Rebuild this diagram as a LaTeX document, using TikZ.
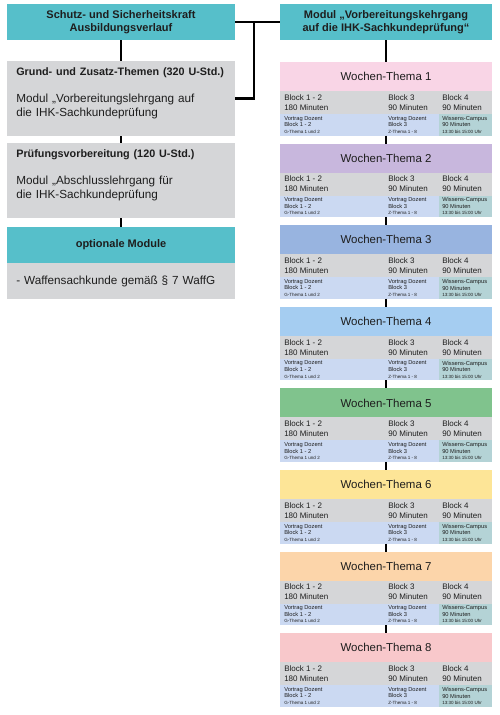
\documentclass[tikz,border=0pt]{standalone}
\usepackage{fontspec}
\setmainfont{Liberation Sans}
\usetikzlibrary{positioning}

\definecolor{headteal}{HTML}{56BFCA}
\definecolor{boxgrey}{HTML}{D5D6D8}
\definecolor{rowblue}{HTML}{CBD9F2}
\definecolor{cellteal}{HTML}{B4D3D6}
\definecolor{textgrey}{HTML}{1E1E1E}
\definecolor{week1}{HTML}{F9D5E6}
\definecolor{week2}{HTML}{C8B7DD}
\definecolor{week3}{HTML}{98B4E0}
\definecolor{week4}{HTML}{A5CDF1}
\definecolor{week5}{HTML}{80C38D}
\definecolor{week6}{HTML}{FDE597}
\definecolor{week7}{HTML}{FCD5AA}
\definecolor{week8}{HTML}{F8C8CB}

\newcommand\subline[1]{{\fontsize{3.4}{4.9}\selectfont #1}}
\newcommand\boxhead[1]{\mbox{\bfseries\fontsize{8.1}{10.1}\selectfont #1}}

\begin{document}
\begin{tikzpicture}[
  x=0.75pt, y=-0.75pt,
  box/.style={anchor=north west, inner sep=0pt, outer sep=0pt, text=textgrey},
  tealbox/.style={box, fill=headteal, minimum height=27pt, align=center, font=\bfseries\fontsize{8.25}{10}\selectfont},
  greybox/.style={box, fill=boxgrey, inner xsep=7pt, text width=157pt, align=left, font=\fontsize{8.8}{10.1}\selectfont},
  weekhead/.style={box, minimum width=159pt, minimum height=21.75pt, font=\fontsize{8.6}{10}\selectfont},
  greyrow/.style={box, fill=boxgrey, minimum width=159pt, minimum height=17.25pt},
  bluecell/.style={box, fill=rowblue, minimum width=119.25pt, minimum height=16.125pt},
  tealcell/.style={box, fill=cellteal, minimum width=39.75pt, minimum height=16.125pt},
  blocktext/.style={anchor=west, inner sep=0pt, align=left, text=textgrey, font=\fontsize{6}{7.5}\selectfont},
  smalltext/.style={anchor=west, inner sep=0pt, align=left, text=textgrey, font=\fontsize{4.3}{4.9}\selectfont},
  link/.style={line width=1.9pt}
]
\useasboundingbox (0,0) rectangle (500,715);

% left column
\node[tealbox, minimum width=171pt] (title) at (7,4) {Schutz- und Sicherheitskraft\\Ausbildungsverlauf};
\node[greybox, minimum height=56.25pt, text depth=39.75pt] (grund) at (7,61)
  {\boxhead{Grund- und Zusatz-Themen (320 U-Std.)}\\[10pt]Modul „Vorbereitungslehrgang auf\\die IHK-Sachkundeprüfung};
\node[greybox, minimum height=56.25pt, text depth=39.75pt] (pruef) at (7,143)
  {\boxhead{Prüfungsvorbereitung (120 U-Std.)}\\[10pt]Modul „Abschlusslehrgang für\\die IHK-Sachkundeprüfung};
\node[tealbox, minimum width=171pt] (opthead) at (7,227) {optionale Module};
\node[greybox, minimum height=27pt] (optbody) at (7,263) {- Waffensachkunde gemäß § 7 WaffG};

% right column
\node[tealbox, minimum width=159pt] (modul) at (280,4) {Modul „Vorbereitungskehrgang\\auf die IHK-Sachkundeprüfung“};

\foreach \i/\wcol in {1/week1,2/week2,3/week3,4/week4,5/week5,6/week6,7/week7,8/week8}{
  \pgfmathsetmacro\wtop{62+81.6*(\i-1)}
  \node[weekhead, fill=\wcol] (h\i) at (280,\wtop) {Wochen-Thema \i};
  \node[greyrow] (g\i) at (280,\wtop+29) {};
  \node[bluecell] (v\i) at (280,\wtop+52) {};
  \node[tealcell] (c\i) at (439,\wtop+52) {};
  \node[blocktext] (ga\i) at (284,\wtop+40.5) {Block 1 - 2\\180 Minuten};
  \node[blocktext] (gb\i) at (388,\wtop+40.5) {Block 3\\90 Minuten};
  \node[blocktext] (gc\i) at (442,\wtop+40.5) {Block 4\\90 Minuten};
  \node[smalltext] (va\i) at (284,\wtop+62.75) {Vortrag Dozent\\Block 1 - 2\\\subline{G-Thema 1 und 2}};
  \node[smalltext] (vb\i) at (388,\wtop+62.75) {Vortrag Dozent\\Block 3\\\subline{Z-Thema 1 - 8}};
  \node[smalltext] (vc\i) at (442,\wtop+62.75) {Wissens-Campus\\90 Minuten\\\subline{13:30 bis 15:00 Uhr}};
}

% connectors
\draw[link] (title) -- (grund);
\draw[link] (grund) -- (pruef);
\draw[link] (pruef) -- (opthead);
\draw[link] (title) -- (modul);
\path (title.east) -- (modul.west) coordinate[pos=0.42] (tee);
\draw[link] (grund.east) -| (tee);
\draw[link] (modul) -- (h1);
\foreach \i/\j in {1/2,2/3,3/4,4/5,5/6,6/7,7/8}
  \draw[link] (v\i.south -| h\j.north) -- (h\j.north);
\end{tikzpicture}
\end{document}
